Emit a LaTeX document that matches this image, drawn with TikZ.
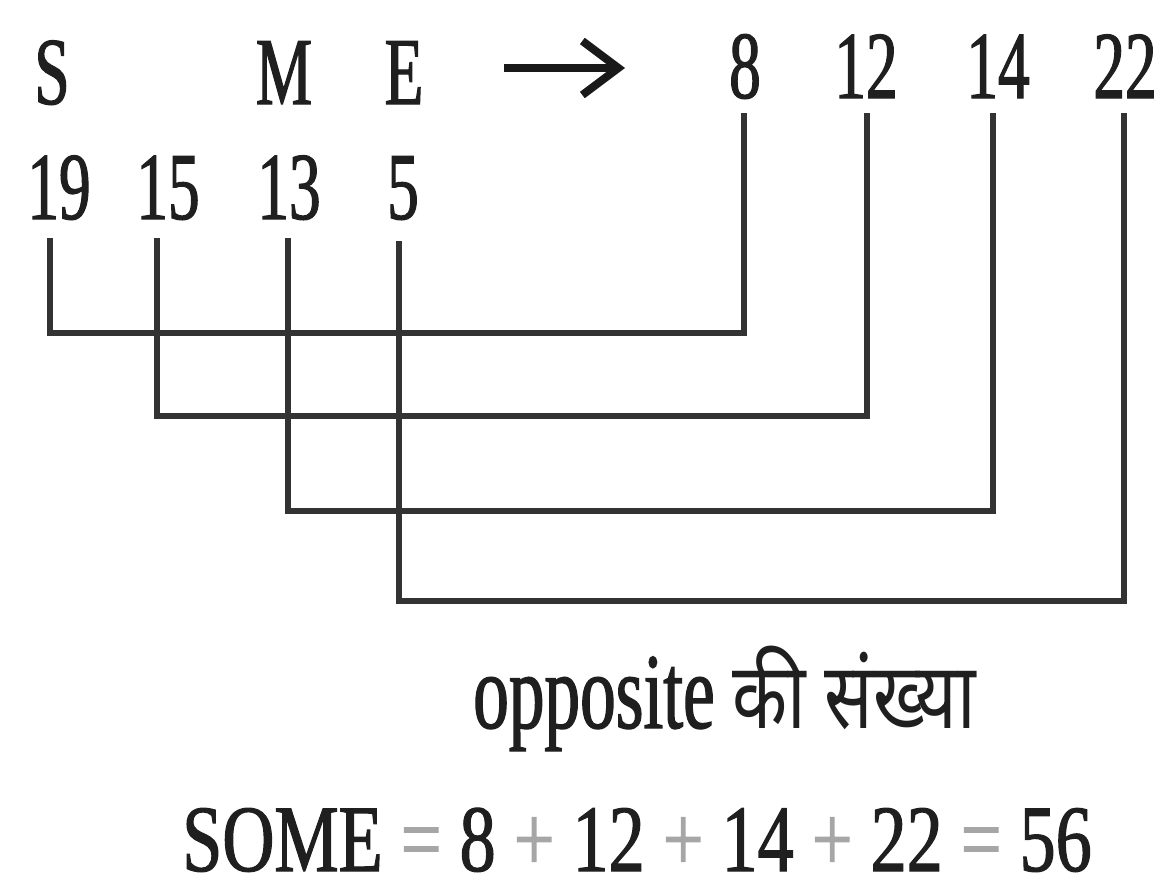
\documentclass[tikz,border=0pt]{standalone}
\usepackage{fontspec}
\usetikzlibrary{arrows.meta}
\setmainfont{Liberation Serif}[FakeStretch=0.66,FakeBold=1.2]
\newfontfamily\eqf{Liberation Serif}[FakeStretch=0.76,FakeBold=1.2]
\newfontfamily\hin[Script=Devanagari,FakeStretch=0.78]{Noto Sans}
\begin{document}
\begin{tikzpicture}[x=1pt,y=-1pt,
  lab/.style={anchor=base,inner sep=0pt,text=black!88,font=\fontsize{96}{96}\selectfont},
  conn/.style={draw=black!80,line width=6.5pt,line join=miter},
  op/.style={text=black!35}]
\useasboundingbox (0,0) rectangle (1169,889);
% top row
\node[lab] (s) at (52,104) {S};
\node[lab] (m) at (284,104) {M};
\node[lab] (e) at (404,104) {E};
\node[lab] (n8) at (745,98) {8};
\node[lab] (n12) at (866,98) {12};
\node[lab] (n14) at (998,98) {14};
\node[lab] (n22) at (1125,98) {22};
% arrow
\coordinate (a1) at (504,68);
\coordinate (a2) at (625,68);
\draw[black!90,line width=8pt,-{Straight Barb[length=36pt,width=54pt,line width=8pt]}] (a1) -- (a2);
% bottom row
\node[lab] (n19) at (59,219) {19};
\node[lab] (n15) at (168,219) {15};
\node[lab] (n13) at (289,219) {13};
\node[lab] (n5) at (403,219) {5};
% connectors
\draw[conn] ([xshift=-9pt,yshift=-19pt]n19.base) -- ++(0,95) -| ([xshift=-1pt,yshift=-15pt]n8.base);
\draw[conn] ([xshift=-11pt,yshift=-19pt]n15.base) -- ++(0,178) -| ([xshift=1pt,yshift=-15pt]n12.base);
\draw[conn] ([xshift=-1pt,yshift=-19pt]n13.base) -- ++(0,273) -| ([xshift=-5pt,yshift=-15pt]n14.base);
\draw[conn] ([xshift=-4pt,yshift=-22pt]n5.base) -- ++(0,360) -| ([xshift=-1pt,yshift=-15pt]n22.base);
% texts
\node[anchor=base west,inner sep=0pt,text=black!88,font=\fontsize{108}{108}\selectfont] (opp) at (473,728) {opposite {\hin\fontsize{92}{92}\selectfont की संख्या}};
\node[anchor=base west,inner sep=0pt,text=black!88,font=\eqf\fontsize{95}{95}\selectfont] (eq) at (182,871) {SOME {\color{black!35}=} 8 {\color{black!35}+} 12 {\color{black!35}+} 14 {\color{black!35}+} 22 {\color{black!35}=} 56};
\end{tikzpicture}
\end{document}
